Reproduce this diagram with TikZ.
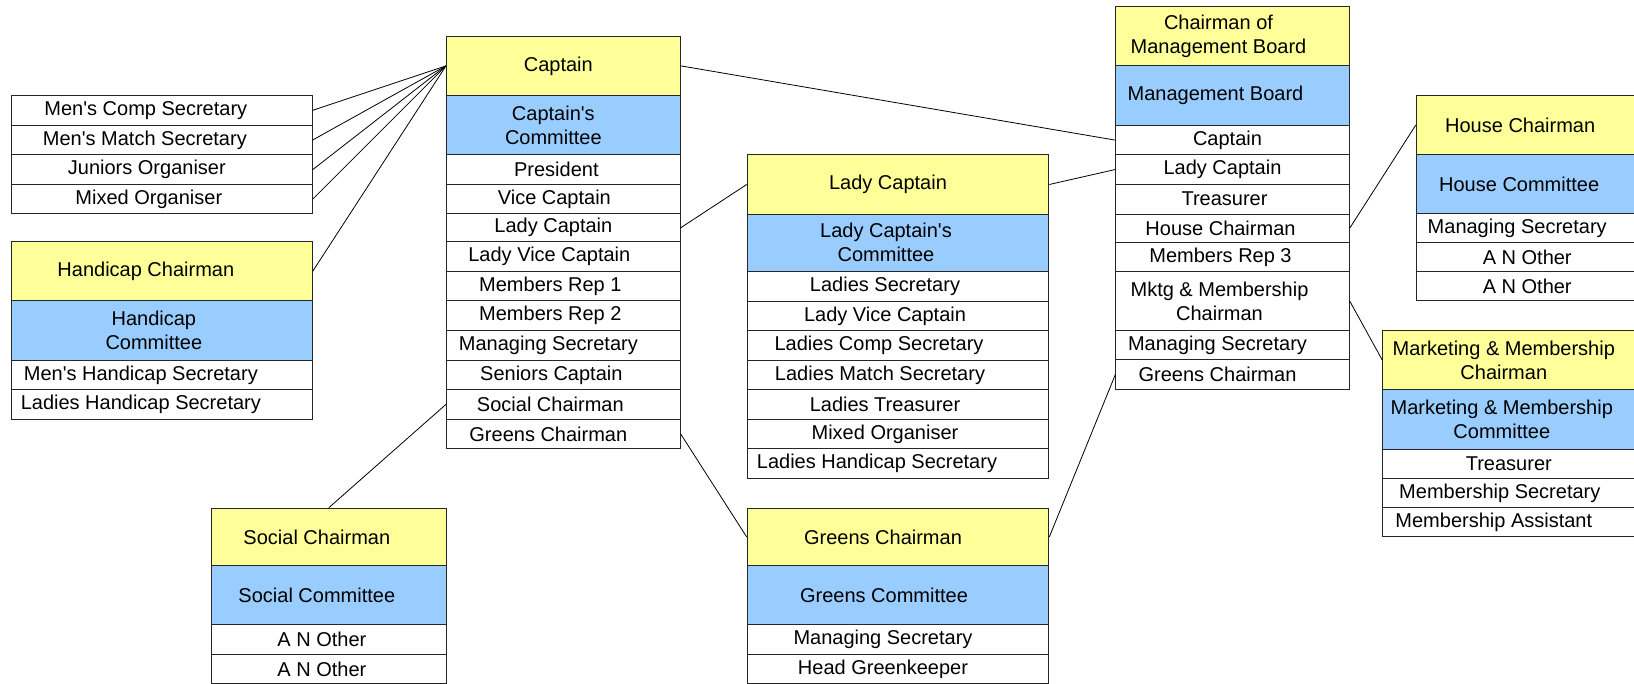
\documentclass[tikz,border=0pt]{standalone}
\usepackage{fontspec}
\setmainfont{Liberation Sans}
\definecolor{hdrY}{HTML}{FFFF99}
\definecolor{comB}{HTML}{99CCFF}
\newcommand\apos{\textquotesingle}
\tikzset{
  cellbox/.style={draw=black!85, line width=1pt, fill=white, inner sep=0pt},
  hdr/.style={cellbox, fill=hdrY},
  com/.style={cellbox, fill=comB},
  cell/.style={cellbox},
  lbl/.style={inner sep=0pt, align=center, font=\fontsize{20}{24}\selectfont},
  link/.style={draw=black, line width=0.8pt},
}
% #1 name, #2 style, #3 x, #4 width, #5 top, #6 bottom, #7 text x-offset, #8 text
\newcommand\orgrow[8]{%
  \node[#2, minimum width=#4pt, minimum height={(#6-#5)*1pt}, anchor=north west] (#1) at (#3pt,-#5pt) {};
  \node[lbl] (#1-t) at ([xshift=#7pt]#1.center) {#8};}
\begin{document}
\begin{tikzpicture}
\useasboundingbox (0,0) rectangle (1634pt,-684pt);
\clip (0,0) rectangle (1634pt,-684pt);
\fill[white] (0,0) rectangle (1634pt,-684pt);

% left list
\orgrow{a-mcs}{cell}{11}{300.7}{95}{124.7}{-16}{Men\apos s Comp Secretary}
\orgrow{a-mms}{cell}{11}{300.7}{124.7}{154.3}{-17}{Men\apos s Match Secretary}
\orgrow{a-jo}{cell}{11}{300.7}{154.3}{184}{-15}{Juniors Organiser}
\orgrow{a-mo}{cell}{11}{300.7}{184}{213.3}{-13}{Mixed Organiser}

% handicap
\orgrow{h-hdr}{hdr}{11}{300.7}{241.3}{300.3}{-16}{Handicap Chairman}
\orgrow{h-com}{com}{11}{300.7}{300.3}{359.7}{-8}{Handicap\\Committee}
\orgrow{h-mhs}{cell}{11}{300.7}{359.7}{389.3}{-21}{Men\apos s Handicap Secretary}
\orgrow{h-lhs}{cell}{11}{300.7}{389.3}{418.7}{-21}{Ladies Handicap Secretary}

% captain
\orgrow{c-hdr}{hdr}{446}{233.7}{35.7}{95}{-5}{Captain}
\orgrow{c-com}{com}{446}{233.7}{95}{154.3}{-10}{Captain\apos s\\Committee}
\orgrow{c-pres}{cell}{446}{233.7}{154.3}{183.7}{-7}{President}
\orgrow{c-vc}{cell}{446}{233.7}{183.7}{213.3}{-9}{Vice Captain}
\orgrow{c-lc}{cell}{446}{233.7}{213.3}{241.3}{-10}{Lady Captain}
\orgrow{c-lvc}{cell}{446}{233.7}{241.3}{271}{-14}{Lady Vice Captain}
\orgrow{c-mr1}{cell}{446}{233.7}{271}{300.3}{-13}{Members Rep 1}
\orgrow{c-mr2}{cell}{446}{233.7}{300.3}{330}{-13}{Members Rep 2}
\orgrow{c-ms}{cell}{446}{233.7}{330}{359.7}{-15}{Managing Secretary}
\orgrow{c-sc}{cell}{446}{233.7}{359.7}{389}{-12}{Seniors Captain}
\orgrow{c-soc}{cell}{446}{233.7}{389}{418.7}{-13}{Social Chairman}
\orgrow{c-gc}{cell}{446}{233.7}{418.7}{448.3}{-15}{Greens Chairman}

% lady captain
\orgrow{l-hdr}{hdr}{746.7}{301.6}{154.3}{213.7}{-10}{Lady Captain}
\orgrow{l-com}{com}{746.7}{301.6}{213.7}{271}{-12}{Lady Captain\apos s\\Committee}
\orgrow{l-ls}{cell}{746.7}{301.6}{271}{300.7}{-13}{Ladies Secretary}
\orgrow{l-lvc}{cell}{746.7}{301.6}{300.7}{330.3}{-13}{Lady Vice Captain}
\orgrow{l-lcs}{cell}{746.7}{301.6}{330.3}{359.7}{-19}{Ladies Comp Secretary}
\orgrow{l-lms}{cell}{746.7}{301.6}{359.7}{389}{-18}{Ladies Match Secretary}
\orgrow{l-lt}{cell}{746.7}{301.6}{389}{418.7}{-13}{Ladies Treasurer}
\orgrow{l-mo}{cell}{746.7}{301.6}{418.7}{448.3}{-13}{Mixed Organiser}
\orgrow{l-lhs}{cell}{746.7}{301.6}{448.3}{478}{-21}{Ladies Handicap Secretary}

% management board
\orgrow{m-hdr}{hdr}{1115.3}{233.4}{6.3}{65.3}{-14}{Chairman of\\Management Board}
\orgrow{m-com}{com}{1115.3}{233.4}{65.3}{125}{-17}{Management Board}
\orgrow{m-cap}{cell}{1115.3}{233.4}{125}{154.3}{-5}{Captain}
\orgrow{m-lc}{cell}{1115.3}{233.4}{154.3}{183.7}{-10}{Lady Captain}
\orgrow{m-tr}{cell}{1115.3}{233.4}{183.7}{213.7}{-8}{Treasurer}
\orgrow{m-hc}{cell}{1115.3}{233.4}{213.7}{241.7}{-12}{House Chairman}
\orgrow{m-mr3}{cell}{1115.3}{233.4}{241.7}{271}{-12}{Members Rep 3}
\orgrow{m-mk}{cell}{1115.3}{233.4}{271}{330}{-13}{Mktg \& Membership\\Chairman}
\orgrow{m-ms}{cell}{1115.3}{233.4}{330}{359.3}{-15}{Managing Secretary}
\orgrow{m-gc}{cell}{1115.3}{233.4}{359.3}{389}{-15}{Greens Chairman}

% house
\orgrow{o-hdr}{hdr}{1415.7}{240}{95}{154.3}{-16}{House Chairman}
\orgrow{o-com}{com}{1415.7}{240}{154.3}{213.3}{-17}{House Committee}
\orgrow{o-ms}{cell}{1415.7}{240}{213.3}{242}{-19}{Managing Secretary}
\orgrow{o-ao1}{cell}{1415.7}{240}{242}{271.3}{-9}{A N Other}
\orgrow{o-ao2}{cell}{1415.7}{240}{271.3}{300.3}{-9}{A N Other}

% marketing
\orgrow{k-hdr}{hdr}{1382.3}{260}{330}{389.3}{-9}{Marketing \& Membership\\Chairman}
\orgrow{k-com}{com}{1382.3}{260}{389.3}{448.7}{-11}{Marketing \& Membership\\Committee}
\orgrow{k-tr}{cell}{1382.3}{260}{448.7}{478}{-4}{Treasurer}
\orgrow{k-msec}{cell}{1382.3}{260}{478}{507.3}{-13}{Membership Secretary}
\orgrow{k-mass}{cell}{1382.3}{260}{507.3}{536}{-19}{Membership Assistant}

% social
\orgrow{s-hdr}{hdr}{210.7}{235.3}{507.7}{565.3}{-12}{Social Chairman}
\orgrow{s-com}{com}{210.7}{235.3}{565.3}{624.3}{-12}{Social Committee}
\orgrow{s-ao1}{cell}{210.7}{235.3}{624.3}{653.7}{-7}{A N Other}
\orgrow{s-ao2}{cell}{210.7}{235.3}{653.7}{683.3}{-7}{A N Other}

% greens
\orgrow{g-hdr}{hdr}{746.7}{301.6}{507.7}{565.3}{-15}{Greens Chairman}
\orgrow{g-com}{com}{746.7}{301.6}{565.3}{624.3}{-14}{Greens Committee}
\orgrow{g-ms}{cell}{746.7}{301.6}{624.3}{653.7}{-15}{Managing Secretary}
\orgrow{g-hg}{cell}{746.7}{301.6}{653.7}{683.3}{-15}{Head Greenkeeper}

% connectors
\draw[link] (a-mcs.east) -- (c-hdr.west);
\draw[link] (a-mms.east) -- (c-hdr.west);
\draw[link] (a-jo.east) -- (c-hdr.west);
\draw[link] (a-mo.east) -- (c-hdr.west);
\draw[link] (h-hdr.east) -- (c-hdr.west);
\draw[link] (c-hdr.east) -- (m-cap.west);
\draw[link] (c-lc.east) -- (l-hdr.west);
\draw[link] (l-hdr.east) -- (m-lc.west);
\draw[link] (m-hc.east) -- (o-hdr.west);
\draw[link] (m-mk.east) -- (k-hdr.west);
\draw[link] (m-gc.west) -- (g-hdr.east);
\draw[link] (c-gc.east) -- (g-hdr.west);
\draw[link] (c-soc.west) -- (s-hdr.north);
\end{tikzpicture}
\end{document}
